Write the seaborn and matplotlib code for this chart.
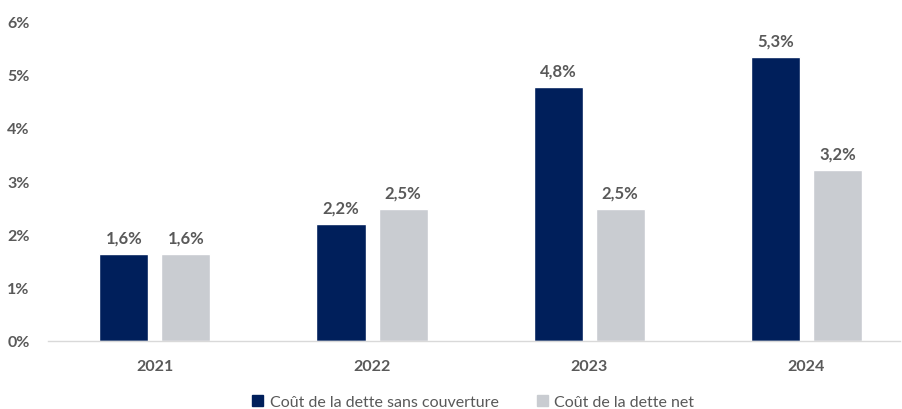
import matplotlib
matplotlib.use("Agg")
import matplotlib.pyplot as plt
import pandas as pd
import seaborn as sns

years = ["2021", "2022", "2023", "2024"]
series_names = ["Coût de la dette sans couverture", "Coût de la dette net"]
cost_gross = [1.64, 2.19, 4.77, 5.33]
cost_net = [1.64, 2.48, 2.48, 3.21]
y_ticks = [0, 1, 2, 3, 4, 5, 6]

colors = ["#001F5B", "#C9CCD1"]
text_color = "#595959"

sns.set_theme(style="white")
plt.rcParams["font.family"] = ["Lato", "DejaVu Sans"]

df = pd.DataFrame({
    "year": years * 2,
    "value": cost_gross + cost_net,
    "serie": [series_names[0]] * 4 + [series_names[1]] * 4,
})

fig = plt.figure(figsize=(9.03, 4.10), dpi=100)
ax = fig.add_axes([0.053, 0.166, 0.944, 0.78])

sns.barplot(data=df, x="year", y="value", hue="serie", hue_order=series_names,
            palette=colors, width=0.572, gap=0.21, saturation=1,
            ax=ax, legend=False, errorbar=None)

# value labels above bars
for cont in ax.containers:
    labels = [f"{b.get_height():.1f}".replace(".", ",") + "%" for b in cont]
    ax.bar_label(cont, labels=labels, padding=6, fontsize=12,
                 fontweight="bold", color=text_color)

ax.set_ylim(0, 6)
ax.set_xlim(-0.493, 3.433)
ax.set_yticks(y_ticks)
ax.set_yticklabels([f"{t}%" for t in y_ticks])
ax.set_xlabel("")
ax.set_ylabel("")
ax.tick_params(axis="both", length=0, labelsize=11.5, labelcolor=text_color)
ax.tick_params(axis="x", pad=13)
ax.tick_params(axis="y", pad=13)
for lab in ax.get_xticklabels() + ax.get_yticklabels():
    lab.set_fontweight("bold")

for side in ["top", "right", "left"]:
    ax.spines[side].set_visible(False)
ax.spines["bottom"].set_color("#D9D9D9")
ax.spines["bottom"].set_linewidth(1)

handles = [plt.Rectangle((0, 0), 1, 1, color=c) for c in colors]
fig.legend(handles, series_names, loc="lower center", bbox_to_anchor=(0.524, -0.035),
           ncol=2, frameon=False, handlelength=0.7, handleheight=0.7,
           handletextpad=0.4, columnspacing=2.4, fontsize=11.5,
           labelcolor=text_color)

fig.savefig("out.png", dpi=100)
plt.close(fig)
